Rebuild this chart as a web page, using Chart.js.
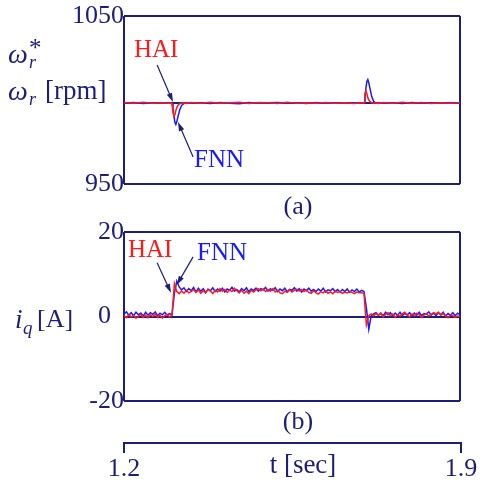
<!DOCTYPE html>
<html>
<head>
<meta charset="utf-8">
<script src="https://cdn.jsdelivr.net/npm/chart.js@4.4.1/dist/chart.umd.min.js"></script>
<style>
  body { margin: 0; width: 484px; height: 482px; overflow: hidden; background: #fff; position: relative;
         font-family: "Liberation Serif", "Times New Roman", serif; color: #1d1d7a; }
  canvas { position: absolute; left: 0; }
  .lbl { position: absolute; white-space: nowrap; z-index: 2; font-family: "Liberation Serif", serif; }
  .red { color: #ff1a1a; }
  .blue { color: #1a1aff; }
  .mid { transform: translateX(-50%); }
</style>
</head>
<body>
<canvas id="speedChart" width="484" height="200" style="top:0"></canvas>
<canvas id="iqChart" width="484" height="212" style="top:216px"></canvas>
<canvas id="timeAxis" width="484" height="42" style="top:440px"></canvas>

<!-- axis names and panel tags -->
<div class="lbl" style="left:8px;top:40px;font-size:28px;line-height:28px"><i>ω</i></div>
<div class="lbl" style="left:29px;top:53px;font-size:18px;line-height:18px"><i>r</i></div>
<div class="lbl" style="left:29px;top:35px;font-size:25px;line-height:25px">*</div>
<div class="lbl" style="left:8px;top:77px;font-size:28px;line-height:28px"><i>ω</i></div>
<div class="lbl" style="left:29px;top:90px;font-size:18px;line-height:18px"><i>r</i></div>
<div class="lbl" style="left:45px;top:77px;font-size:27px;line-height:27px">[rpm]</div>

<div class="lbl" style="left:15px;top:306px;font-size:27px;line-height:27px"><i>i</i></div>
<div class="lbl" style="left:23px;top:318px;font-size:19px;line-height:19px"><i>q</i></div>
<div class="lbl" style="left:37px;top:306px;font-size:26px;line-height:26px">[A]</div>

<div class="lbl mid" style="left:298px;top:193px;font-size:26px;line-height:26px">(a)</div>
<div class="lbl mid" style="left:298px;top:408px;font-size:26px;line-height:26px">(b)</div>
<div class="lbl mid" style="left:303px;top:451px;font-size:27px;line-height:27px">t [sec]</div>

<div class="lbl red" style="left:134px;top:36px;font-size:25px;line-height:25px">HAI</div>
<div class="lbl blue" style="left:194px;top:146px;font-size:25px;line-height:25px">FNN</div>
<div class="lbl red" style="left:128px;top:236px;font-size:25px;line-height:25px">HAI</div>
<div class="lbl blue" style="left:197px;top:239px;font-size:25px;line-height:25px">FNN</div>

<script>
var navy = "#1d1d7a";
var haiColor = "#ff1a1a";
var fnnColor = "#1a1aff";

// time axis
var timeTicks = [1.2, 1.9];
var timeTickLabels = ["1.2", "1.9"];

// (a) rotor speed [rpm]; middle line is the speed command
var speedTicks = [950, 998.2, 1050];
var speedTickLabels = ["950", "", "1050"];
var speedTime = [
  1.2, 1.22, 1.24, 1.26, 1.28, 1.29,
  1.298, 1.300, 1.302, 1.304, 1.306, 1.308, 1.310,
  1.313, 1.316, 1.320, 1.325, 1.330,
  1.34, 1.36, 1.38, 1.40, 1.42, 1.44, 1.46, 1.48, 1.50,
  1.52, 1.54, 1.56, 1.58, 1.60, 1.62, 1.64, 1.66, 1.68,
  1.69,
  1.698, 1.700, 1.702, 1.704, 1.706, 1.708, 1.710,
  1.713, 1.716, 1.720, 1.725, 1.730,
  1.74, 1.76, 1.78, 1.80, 1.82, 1.84, 1.86, 1.88, 1.90
];
var speedHAI = [
  998.5, 998.0, 998.6, 998.1, 998.4, 998.0,
  998.2, 997.7, 992.7, 990.0, 991.2, 993.7, 995.5,
  997.0, 997.8, 998.2, 998.4, 998.0,
  998.5, 998.1, 998.6, 998.0, 998.4, 998.7, 997.9, 998.5, 998.3,
  997.9, 998.6, 998.1, 998.4, 998.0, 998.5, 998.1, 998.4, 997.9,
  998.3,
  998.2, 998.5, 1003.2, 1005.4, 1003.7, 1001.4, 1000.0,
  999.0, 998.4, 998.1, 998.4, 998.0,
  998.5, 998.0, 998.6, 998.1, 998.5, 997.9, 998.4, 998.0, 998.3
];
var speedFNN = [
  998.1, 998.5, 997.9, 998.4, 998.0, 998.3,
  998.2, 998.1, 995.2, 990.7, 986.7, 985.4, 987.0,
  990.7, 994.0, 996.8, 998.0, 998.4,
  998.0, 998.4, 997.9, 998.5, 998.1, 997.8, 998.5, 998.0, 998.4,
  998.5, 998.0, 998.3, 997.9, 998.5, 998.1, 998.3, 998.0, 998.4,
  998.1,
  998.3, 998.2, 1001.7, 1007.2, 1011.0, 1012.2, 1010.2,
  1006.2, 1002.2, 999.2, 998.1, 998.4,
  998.0, 998.4, 997.9, 998.5, 998.1, 998.4, 998.0, 998.3, 998.1
];

// (b) q-axis current [A]
var iqTicks = [-20, 0, 20];
var iqTickLabels = ["-20", "0\u2002", "20"];
var iqTime = [
  1.200, 1.205, 1.210, 1.215, 1.220, 1.225, 1.230, 1.235, 1.240, 1.245,
  1.250, 1.255, 1.260, 1.265, 1.270, 1.275, 1.280, 1.285, 1.290, 1.295,
  1.300, 1.305, 1.310, 1.315, 1.320, 1.325, 1.330, 1.335, 1.340, 1.345,
  1.350, 1.355, 1.360, 1.365, 1.370, 1.375, 1.380, 1.385, 1.390, 1.395,
  1.400, 1.405, 1.410, 1.415, 1.420, 1.425, 1.430, 1.435, 1.440, 1.445,
  1.450, 1.455, 1.460, 1.465, 1.470, 1.475, 1.480, 1.485, 1.490, 1.495,
  1.500, 1.505, 1.510, 1.515, 1.520, 1.525, 1.530, 1.535, 1.540, 1.545,
  1.550, 1.555, 1.560, 1.565, 1.570, 1.575, 1.580, 1.585, 1.590, 1.595,
  1.600, 1.605, 1.610, 1.615, 1.620, 1.625, 1.630, 1.635, 1.640, 1.645,
  1.650, 1.655, 1.660, 1.665, 1.670, 1.675, 1.680, 1.685, 1.690, 1.695,
  1.700, 1.705, 1.710, 1.715, 1.720, 1.725, 1.730, 1.735, 1.740, 1.745,
  1.750, 1.755, 1.760, 1.765, 1.770, 1.775, 1.780, 1.785, 1.790, 1.795,
  1.800, 1.805, 1.810, 1.815, 1.820, 1.825, 1.830, 1.835, 1.840, 1.845,
  1.850, 1.855, 1.860, 1.865, 1.870, 1.875, 1.880, 1.885, 1.890, 1.895,
  1.900
];
var iqHAI = [
  0.2, -0.3, 0.4, -0.1, 0.3, -0.4, 0.1, 0.5, -0.2, 0.3,
  -0.3, 0.4, 0.0, 0.6, -0.2, 0.3, -0.4, 0.2, 0.5, -0.1,
  0.3, 7.8, 5.9, 5.4, 6.0, 5.5, 6.2, 5.6, 5.9, 6.4,
  5.7, 6.3, 5.5, 6.1, 5.6, 6.5, 6.0, 5.4, 6.2, 5.8,
  6.6, 6.0, 6.4, 5.7, 6.3, 5.9, 6.7, 6.1, 5.6, 6.2,
  5.5, 6.0, 5.4, 6.2, 5.8, 6.3, 6.6, 6.1, 6.5, 5.9,
  6.4, 6.0, 6.6, 5.8, 6.2, 5.6, 5.4, 6.0, 5.7, 6.3,
  5.8, 6.2, 6.5, 6.0, 6.4, 5.9, 6.3, 5.7, 5.5, 6.1,
  5.6, 5.3, 5.9, 5.6, 6.1, 5.5, 5.8, 5.4, 6.0, 5.7,
  5.9, 5.5, 5.8, 5.6, 5.9, 5.7, 5.4, 5.8, 5.6, 5.7,
  5.4, -2.0, 0.2, 0.6, 0.1, 0.7, 0.3, 0.8, -0.1, 0.5,
  0.9, 0.2, 0.6, -0.2, 0.4, 0.1, 0.7, 1.0, 0.3, -0.1,
  0.6, 0.2, 0.8, 0.4, -0.2, 0.3, 0.7, 0.1, 0.5, 0.9,
  0.6, 1.0, 0.3, 0.7, 0.1, -0.3, 0.4, 0.2, -0.2, 0.1,
  0.0
];
var iqFNN = [
  0.6, 1.1, 0.3, 0.9, 0.2, 1.0, 0.4, 0.8, 0.1, 1.0,
  0.3, 0.9, 0.5, 1.1, 0.2, 0.8, 0.4, 1.0, 0.3, 0.7,
  0.4, 5.5, 8.4, 7.0, 6.3, 6.8, 5.9, 6.6, 6.1, 6.9,
  5.8, 6.7, 6.0, 6.6, 5.7, 6.4, 6.1, 6.8, 5.9, 6.5,
  6.0, 6.7, 5.8, 6.5, 6.2, 6.9, 6.0, 6.4, 5.8, 6.6,
  6.1, 6.8, 5.9, 6.5, 6.2, 6.7, 6.0, 6.6, 6.3, 6.9,
  6.0, 6.6, 6.2, 6.8, 5.9, 6.5, 6.1, 6.7, 5.9, 6.4,
  6.2, 6.8, 6.0, 6.6, 5.8, 6.5, 6.1, 6.7, 6.0, 6.4,
  5.9, 6.5, 6.0, 6.7, 5.8, 6.3, 6.1, 6.6, 5.9, 6.4,
  5.8, 6.4, 5.9, 6.5, 5.7, 6.3, 5.9, 6.5, 5.8, 6.2,
  5.9, 2.0, -3.0, 0.2, 0.6, 0.9, 0.3, 0.8, 0.2, 1.0,
  0.4, 0.9, 0.1, 0.8, 0.3, 1.0, 0.2, 0.7, 0.4, 0.9,
  0.1, 0.8, 0.3, 1.0, 0.2, 0.7, 0.5, 1.1, 0.3, 0.8,
  0.2, 0.9, 0.4, 1.0, 0.1, 0.7, 0.3, 0.9, 0.2, 0.8,
  0.4
];

// label arrows: [tailX, tailY, headX, headY] in data units
var speedArrows = [[1.269, 1020.8, 1.302, 998.8], [1.344, 966.1, 1.3125, 986.9]];
var iqArrows = [[1.269, 12.7, 1.298, 5.6], [1.344, 14.1, 1.310, 7.5]];

function pairs(xs, ys) {
  return ys.map((v, i) => ({ x: xs[i], y: v }));
}

var arrowPlugin = {
  id: "arrows",
  afterDatasetsDraw(chart, args, opts) {
    var ctx = chart.ctx;
    var xs = chart.scales.x;
    var ys = chart.scales.y;
    (opts.list || []).forEach(function (a) {
      var x1 = xs.getPixelForValue(a[0]), y1 = ys.getPixelForValue(a[1]);
      var x2 = xs.getPixelForValue(a[2]), y2 = ys.getPixelForValue(a[3]);
      var ang = Math.atan2(y2 - y1, x2 - x1);
      ctx.save();
      ctx.strokeStyle = navy;
      ctx.fillStyle = navy;
      ctx.lineWidth = 1.2;
      ctx.beginPath();
      ctx.moveTo(x1, y1);
      ctx.lineTo(x2 - 6 * Math.cos(ang), y2 - 6 * Math.sin(ang));
      ctx.stroke();
      ctx.beginPath();
      ctx.moveTo(x2, y2);
      ctx.lineTo(x2 - 9 * Math.cos(ang) + 2.8 * Math.sin(ang), y2 - 9 * Math.sin(ang) - 2.8 * Math.cos(ang));
      ctx.lineTo(x2 - 9 * Math.cos(ang) - 2.8 * Math.sin(ang), y2 - 9 * Math.sin(ang) + 2.8 * Math.cos(ang));
      ctx.closePath();
      ctx.fill();
      ctx.restore();
    });
  }
};

function panelChart(id, time, hai, fnn, yTicks, yLabels, arrows, bottomPad) {
  var ctx = document.getElementById(id);
  return new Chart(ctx, {
    type: "line",
    data: {
      datasets: [
        { label: "HAI", data: pairs(time, hai), borderColor: haiColor, borderWidth: 1.5, pointRadius: 0, tension: 0 },
        { label: "FNN", data: pairs(time, fnn), borderColor: fnnColor, borderWidth: 1.5, pointRadius: 0, tension: 0 }
      ]
    },
    plugins: [arrowPlugin],
    options: {
      responsive: false,
      animation: false,
      devicePixelRatio: 1,
      layout: { padding: { top: 16, right: 24, bottom: bottomPad, left: 0 } },
      plugins: { legend: { display: false }, tooltip: { enabled: false }, arrows: { list: arrows } },
      scales: {
        x: {
          type: "linear",
          min: timeTicks[0],
          max: timeTicks[timeTicks.length - 1],
          afterBuildTicks: (s) => { s.ticks = timeTicks.map((v) => ({ value: v })); },
          afterFit: (s) => { s.height = 0; },
          ticks: { display: false },
          grid: { color: navy, lineWidth: 2, drawTicks: false },
          border: { display: false }
        },
        y: {
          min: yTicks[0],
          max: yTicks[yTicks.length - 1],
          afterBuildTicks: (s) => { s.ticks = yTicks.map((v) => ({ value: v })); },
          afterFit: (s) => { s.width = 124; },
          ticks: {
            padding: 0,
            color: navy,
            font: { family: "Liberation Serif", size: 26 },
            callback: (v, i) => yLabels[i]
          },
          grid: { color: navy, lineWidth: 2, drawTicks: false },
          border: { display: false }
        }
      }
    }
  });
}

panelChart("speedChart", speedTime, speedHAI, speedFNN, speedTicks, speedTickLabels, speedArrows, 16);
panelChart("iqChart", iqTime, iqHAI, iqFNN, iqTicks, iqTickLabels, iqArrows, 27);

// bracket-style time axis below both panels
new Chart(document.getElementById("timeAxis"), {
  type: "line",
  data: { datasets: [] },
  options: {
    responsive: false,
    animation: false,
    devicePixelRatio: 1,
    layout: { padding: { top: 0, right: 23, bottom: 0, left: 124 } },
    plugins: { legend: { display: false }, tooltip: { enabled: false } },
    scales: {
      x: {
        type: "linear",
        min: timeTicks[0],
        max: timeTicks[timeTicks.length - 1],
        afterBuildTicks: (s) => { s.ticks = timeTicks.map((v) => ({ value: v })); },
        afterFit: (s) => { s.height = 39; },
        ticks: {
          padding: 1,
          color: navy,
          maxRotation: 0,
          font: { family: "Liberation Serif", size: 26 },
          callback: (v, i) => timeTickLabels[i]
        },
        grid: { drawOnChartArea: false, color: navy, lineWidth: 2, tickLength: 10 },
        border: { display: true, color: navy, width: 2 }
      },
      y: { display: false }
    }
  }
});
</script>
</body>
</html>
